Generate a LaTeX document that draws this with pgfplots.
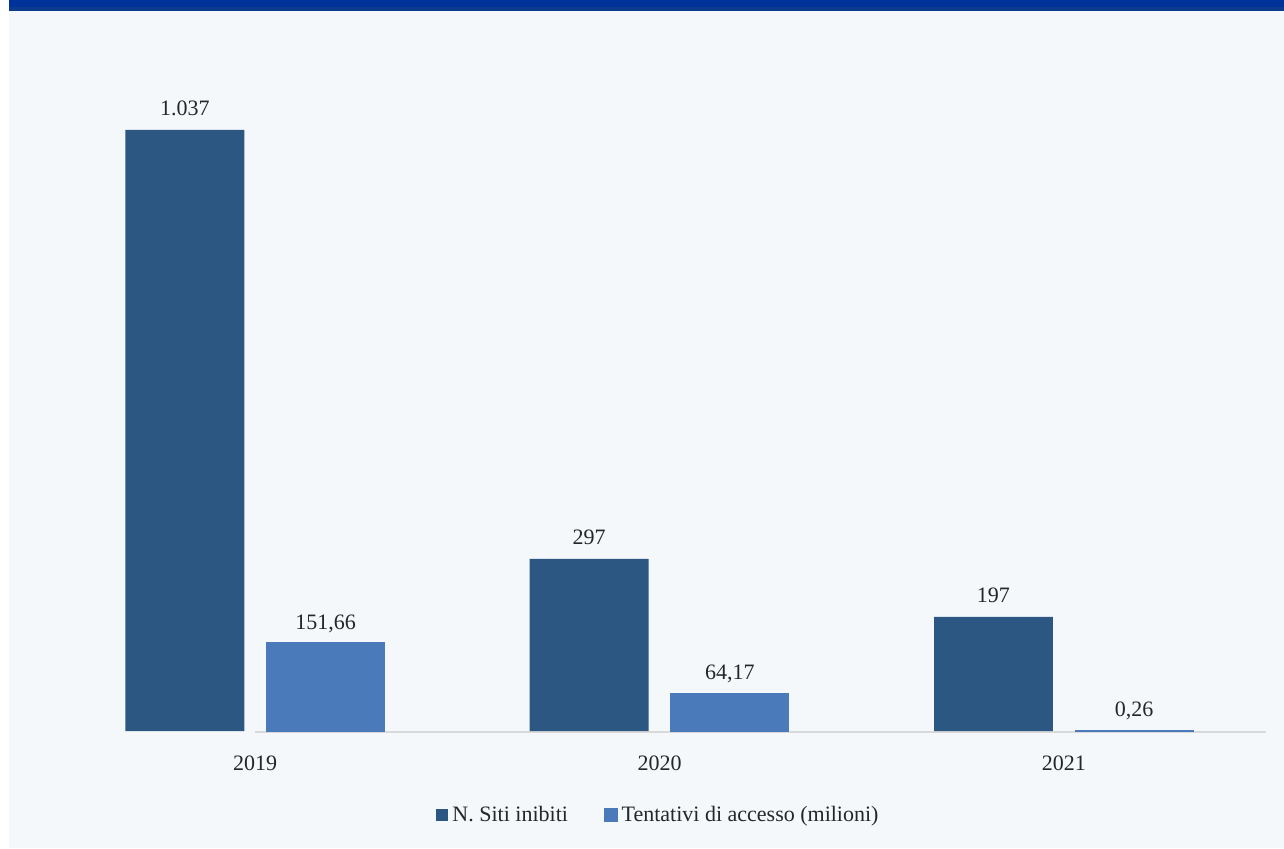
\documentclass[border=0pt]{standalone}
\usepackage{pgfplots}
\pgfplotsset{compat=1.18}
\usepackage{fontspec}
\setmainfont{Liberation Serif}
\definecolor{bg}{HTML}{F4F8FB}
\definecolor{bandA}{HTML}{003399}
\definecolor{bandB}{HTML}{0B3A8F}
\definecolor{darkbar}{HTML}{2B5782}
\definecolor{lightbar}{HTML}{4A7AB9}
\definecolor{axisgray}{HTML}{D9D9D9}
\begin{document}
\begin{tikzpicture}[x=1pt,y=1pt]
\fill[white] (0,0) rectangle (642,424);
\fill[bg] (4.5,0) rectangle (642,418.5);
\fill[bandA] (4.5,420.5) rectangle (642,424);
\fill[bandB] (4.5,418.5) rectangle (642,420.5);
\begin{axis}[
  at={(26.5pt,58.5pt)}, anchor=south west,
  scale only axis, width=606.5pt, height=335.5pt,
  xmin=-0.5, xmax=2.5, ymin=0, ymax=1157.7,
  axis x line=bottom, axis y line=none,
  axis line style={draw=none, -},
  xtick={0,1,2}, xticklabels={2019,2020,2021},
  major tick length=0pt,
  xticklabel style={font=\fontsize{11}{13}\selectfont, text=black!85, yshift=-9pt},
  ybar, bar width=0.294,
  point meta=explicit symbolic,
  nodes near coords,
  every node near coord/.append style={font=\fontsize{11}{13}\selectfont, text=black!85, anchor=base, yshift=7pt},
  legend style={at={(0.5,-0.125)}, anchor=center, draw=none, fill=none,
    legend columns=2, font=\fontsize{11}{13}\selectfont, text=black!85,
    /tikz/every even column/.append style={column sep=16pt}},
  legend image code/.code={\fill[#1] (0pt,-3pt) rectangle (6pt,3pt);},
  clip=false,
]
\draw[axisgray, line width=0.8pt] (axis cs:-0.5,0) ++(0,-0.6pt) -- ([yshift=-0.6pt]axis cs:2.5,0);
\addplot[fill=darkbar, draw=none, bar shift=-0.174] table[meta=lab] {
x y lab
0 1037 1.037
1 297 297
2 197 197
};
\addlegendentry{N. Siti inibiti}
\addplot[fill=lightbar, draw=lightbar, line width=0.8pt, bar width=0.29, bar shift=0.174] table[meta=lab] {
x y lab
0 151.66 151,66
1 64.17 64,17
2 0.26 0,26
};
\addlegendentry{Tentativi di accesso (milioni)}
\end{axis}
\end{tikzpicture}
\end{document}
